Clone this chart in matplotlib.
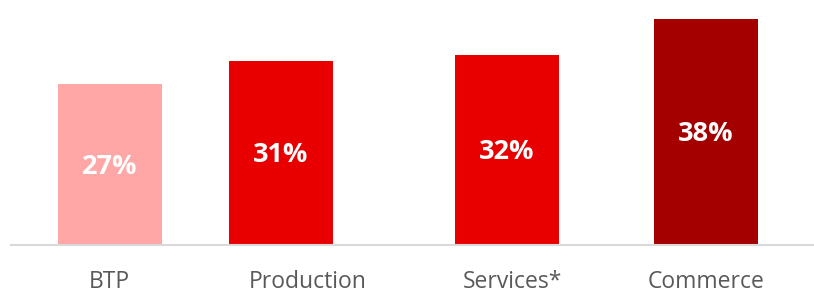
import matplotlib.pyplot as plt

# data
categories = ["BTP", "Production", "Services*", "Commerce"]
values = [27, 31, 32, 38]
colors = ["#FFA6A6", "#E80000", "#E80000", "#A50000"]

# layout (pixel-like x positions of the original chart)
x_pos = [110, 281, 507, 706]
label_pos = [109, 308, 513, 706]

plt.rcParams['font.family'] = ['Open Sans', 'DejaVu Sans']

fig = plt.figure(figsize=(8.14, 2.91), dpi=100)
ax = fig.add_axes([11 / 814, 46 / 291, 803 / 814, 245 / 291])

ax.bar(x_pos, values, width=104, color=colors)
for xp, v in zip(x_pos, values):
    ax.text(xp, v / 2 - 0.3, f"{v}%", ha="center", va="center",
            color="white", fontsize=19.5, fontweight="bold")

ax.set_xlim(11, 814)
ax.set_ylim(0, 41.2)
ax.set_yticks([])
ax.set_xticks(label_pos)
ax.set_xticklabels(categories, fontsize=16.5, color="#595959")
ax.tick_params(axis="x", length=0, pad=18)

for s in ["top", "right", "left"]:
    ax.spines[s].set_visible(False)
ax.spines["bottom"].set_color("#D9D9D9")
ax.spines["bottom"].set_linewidth(1.5)

plt.savefig("out.png", dpi=100)
